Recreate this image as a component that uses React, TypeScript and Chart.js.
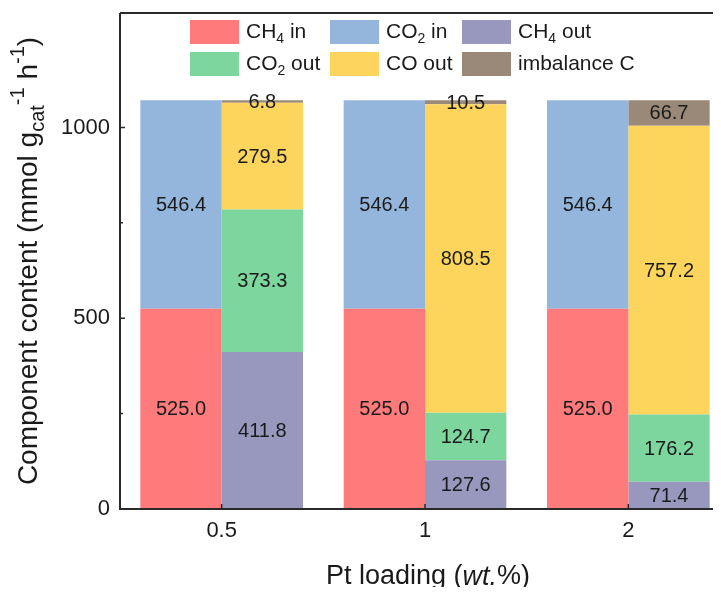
import React, { useEffect, useRef } from "react";
import { Chart, registerables } from "chart.js";

Chart.register(...registerables);

const categories = ["0.5", "1", "2"];
const ch4In = [525.0, 525.0, 525.0];
const co2In = [546.4, 546.4, 546.4];
const ch4Out = [411.8, 127.6, 71.4];
const co2Out = [373.3, 124.7, 176.2];
const coOut = [279.5, 808.5, 757.2];
const imbalanceC = [6.8, 10.5, 66.7];
const yMajorTicks = [0, 500, 1000];
const yMinorTicks = [250, 750];

const FONT = '"Liberation Sans", Arial, Helvetica, sans-serif';
const TEXT = "#1a1a1a";
const AXIS = "#2a2a2a";

type Part = { t: string; m?: "sub" | "sup" | "it" };

function parseRich(s: string): Part[] {
  const parts: Part[] = [];
  s.split("|").forEach((seg) => {
    if (seg.startsWith("_")) parts.push({ t: seg.slice(1), m: "sub" });
    else if (seg.startsWith("^")) parts.push({ t: seg.slice(1), m: "sup" });
    else if (seg.startsWith("~")) parts.push({ t: seg.slice(1), m: "it" });
    else if (seg.length) parts.push({ t: seg });
  });
  return parts;
}

function drawRich(
  ctx: CanvasRenderingContext2D,
  text: string,
  x: number,
  y: number,
  size: number,
  align: "left" | "center",
  smallRatio = 0.66
) {
  const parts = parseRich(text);
  const small = Math.round(size * smallRatio);
  const fontOf = (p: Part) =>
    p.m === "sub" || p.m === "sup"
      ? `${small}px ${FONT}`
      : p.m === "it"
      ? `italic ${size}px ${FONT}`
      : `${size}px ${FONT}`;
  let total = 0;
  parts.forEach((p) => {
    ctx.font = fontOf(p);
    total += ctx.measureText(p.t).width;
  });
  let cx = align === "center" ? x - total / 2 : x;
  ctx.textAlign = "left";
  ctx.textBaseline = "middle";
  parts.forEach((p) => {
    ctx.font = fontOf(p);
    let dy = 0;
    if (p.m === "sub") dy = size * 0.34;
    if (p.m === "sup") dy = -size * 0.38;
    ctx.fillText(p.t, cx, y + dy);
    cx += ctx.measureText(p.t).width;
  });
}

const legendItems = [
  { label: "CH|_4| in", color: "#FF7A7A", col: 0, row: 0 },
  { label: "CO|_2| in", color: "#94B6DC", col: 1, row: 0 },
  { label: "CH|_4| out", color: "#9898BF", col: 2, row: 0 },
  { label: "CO|_2| out", color: "#7DD69E", col: 0, row: 1 },
  { label: "CO out", color: "#FED55C", col: 1, row: 1 },
  { label: "imbalance C", color: "#9A8878", col: 2, row: 1 },
];

const customPlugin = {
  id: "custom",
  afterDraw(chart: any) {
    const ctx: CanvasRenderingContext2D = chart.ctx;
    const ca = chart.chartArea;
    const xs = chart.scales.x;
    const ys = chart.scales.y;
    ctx.save();

    // data labels
    ctx.fillStyle = TEXT;
    chart.data.datasets.forEach((ds: any, i: number) => {
      const meta = chart.getDatasetMeta(i);
      meta.data.forEach((bar: any, j: number) => {
        const v = ds.data[j];
        const cy = (bar.y + bar.base) / 2;
        ctx.font = `20px ${FONT}`;
        ctx.textAlign = "center";
        ctx.textBaseline = "middle";
        ctx.fillText(v.toFixed(1), bar.x, cy + 1);
      });
    });

    // axes frame
    ctx.strokeStyle = AXIS;
    ctx.lineWidth = 2;
    ctx.beginPath();
    ctx.moveTo(ca.left, ca.top);
    ctx.lineTo(ca.left, ca.bottom);
    ctx.lineTo(ca.right, ca.bottom);
    ctx.moveTo(ca.left, ca.top);
    ctx.lineTo(ca.right, ca.top);
    ctx.lineTo(ca.right, ca.bottom);
    ctx.stroke();

    // ticks (inward)
    ctx.lineWidth = 1.5;
    ctx.beginPath();
    yMajorTicks.forEach((v) => {
      const py = ys.getPixelForValue(v);
      ctx.moveTo(ca.left, py);
      ctx.lineTo(ca.left + 5, py);
    });
    yMinorTicks.forEach((v) => {
      const py = ys.getPixelForValue(v);
      ctx.moveTo(ca.left, py);
      ctx.lineTo(ca.left + 3, py);
    });
    categories.forEach((_, i) => {
      const px = xs.getPixelForValue(i);
      ctx.moveTo(px, ca.bottom);
      ctx.lineTo(px, ca.bottom - 5);
    });
    ctx.stroke();

    // y tick labels
    ctx.fillStyle = TEXT;
    ctx.font = `22px ${FONT}`;
    ctx.textAlign = "right";
    ctx.textBaseline = "middle";
    yMajorTicks.forEach((v) => {
      ctx.fillText(String(v), ca.left - 10, ys.getPixelForValue(v));
    });
    // x tick labels
    ctx.textAlign = "center";
    ctx.textBaseline = "middle";
    categories.forEach((c, i) => {
      ctx.fillText(c, xs.getPixelForValue(i), ca.bottom + 22);
    });

    // x title
    drawRich(ctx, "Pt loading (|~wt.|%)", 428, ca.bottom + 68, 27, "center");

    // y title
    ctx.save();
    ctx.translate(29, (ca.top + ca.bottom) / 2);
    ctx.rotate(-Math.PI / 2);
    drawRich(
      ctx,
      "Component content (mmol g|_cat|^-1| h|^-1|)",
      0,
      0,
      28,
      "center",
      0.72
    );
    ctx.restore();

    // legend
    const colX = [190, 330, 462];
    const rowY = [20, 52];
    legendItems.forEach((it) => {
      const x = colX[it.col];
      const y = rowY[it.row];
      ctx.fillStyle = it.color;
      ctx.fillRect(x, y, 49, 24);
      ctx.fillStyle = TEXT;
      drawRich(ctx, it.label, x + 56, y + 12, 21, "left");
    });

    ctx.restore();
  },
};

export default function App() {
  const ref = useRef<HTMLCanvasElement>(null);
  useEffect(() => {
    if (!ref.current) return;
    const mk = (label: string, data: number[], color: string, stack: string) => ({
      label,
      data,
      backgroundColor: color,
      borderWidth: 0,
      stack,
      categoryPercentage: 0.8,
      barPercentage: 1.0,
    });
    const chart = new Chart(ref.current, {
      type: "bar",
      data: {
        labels: categories,
        datasets: [
          mk("CH4 in", ch4In, legendItems[0].color, "in"),
          mk("CO2 in", co2In, legendItems[1].color, "in"),
          mk("CH4 out", ch4Out, legendItems[2].color, "out"),
          mk("CO2 out", co2Out, legendItems[3].color, "out"),
          mk("CO out", coOut, legendItems[4].color, "out"),
          mk("imbalance C", imbalanceC, legendItems[5].color, "out"),
        ],
      },
      options: {
        responsive: false,
        animation: false,
        layout: { padding: { top: 13, right: 30, left: 0, bottom: 0 } },
        plugins: { legend: { display: false }, tooltip: { enabled: false } },
        scales: {
          x: {
            type: "category",
            stacked: true,
            offset: true,
            grid: { display: false },
            border: { display: false },
            ticks: { display: false },
            afterFit: (s: any) => {
              s.height = 86;
            },
          },
          y: {
            stacked: true,
            min: 0,
            max: 1300,
            grid: { display: false },
            border: { display: false },
            ticks: { display: false },
            afterFit: (s: any) => {
              s.width = 120;
            },
          },
        },
      } as any,
      plugins: [customPlugin],
    });
    return () => chart.destroy();
  }, []);

  return (
    <div
      style={{
        margin: -8,
        width: 721,
        height: 595,
        overflow: "hidden",
        position: "relative",
        background: "#fff",
      }}
    >
      <canvas ref={ref} width={760} height={595} style={{ display: "block" }} />
    </div>
  );
}
